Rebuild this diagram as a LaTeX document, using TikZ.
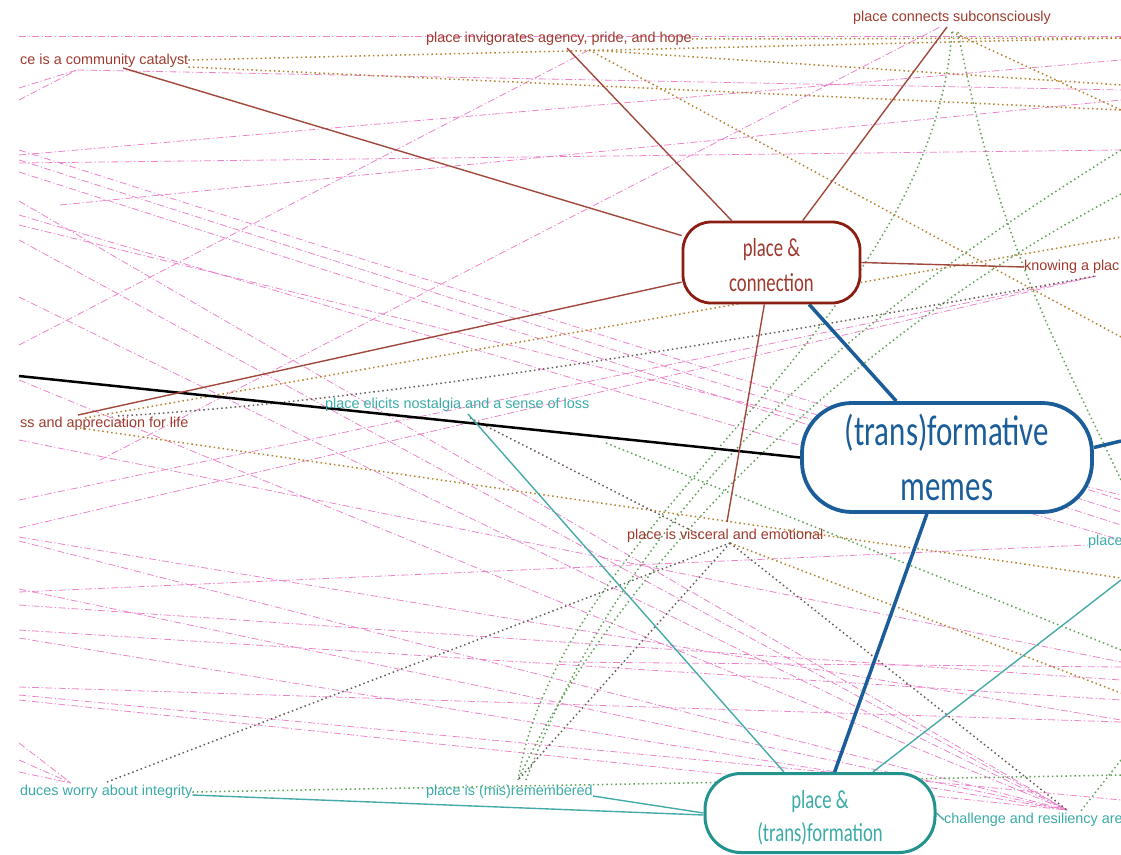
\documentclass[tikz,border=0pt]{standalone}
\usepackage{fontspec}
\setmainfont{Liberation Sans}
\newfontfamily\nodefont[FakeStretch=0.72]{Carlito}
\definecolor{brtext}{HTML}{9E3A2E}
\definecolor{brline}{HTML}{A0483C}
\definecolor{brbox}{HTML}{8B1E12}
\definecolor{bluec}{HTML}{1A5D99}
\definecolor{tealbox}{HTML}{23938D}
\definecolor{tealtext}{HTML}{3AABA8}
\definecolor{tealline}{HTML}{45ABA8}
\definecolor{pinkc}{HTML}{EC82CA}
\definecolor{orangec}{HTML}{B58230}
\definecolor{greenc}{HTML}{62A35A}
\definecolor{darkc}{HTML}{6A5C5C}
\pgfdeclarelayer{bg}
\pgfsetlayers{bg,main}
\tikzset{
  hub/.style={draw, fill=white, align=center, inner sep=0pt},
  lbl/.style={anchor=west, inner sep=0pt, font=\fontsize{14.4}{16}\selectfont},
  pinkl/.style={pinkc, line width=0.8pt, dash pattern=on 7pt off 2.5pt on 1.2pt off 2.5pt},
  dotor/.style={orangec, line width=1.5pt, dash pattern=on 1.5pt off 3pt},
  dotgr/.style={greenc, line width=1.5pt, dash pattern=on 1.5pt off 3pt},
  dotdk/.style={darkc, line width=1.5pt, dash pattern=on 1.5pt off 3pt},
  brl/.style={brline, line width=1.4pt},
  tll/.style={tealline, line width=1.4pt},
  bll/.style={bluec, line width=3.5pt},
}
\begin{document}
\begin{tikzpicture}[x=1pt,y=-1pt]
\useasboundingbox (0,0) rectangle (1121,854);
% hubs
\node[hub, draw=brbox, line width=2.8pt, text=brtext, minimum width=177pt, minimum height=81pt, rounded corners=28pt,
  font=\nodefont\fontsize{26}{35}\selectfont] (pc) at (771.5,262.5) {\rule{0pt}{24pt}place \&\\connection};
\node[hub, draw=bluec, line width=3.8pt, text=bluec, minimum width=290pt, minimum height=109pt, rounded corners=50pt,
  font=\nodefont\fontsize{43}{55}\selectfont] (mm) at (947,457.5) {(trans)formative\\memes};
\node[hub, draw=tealbox, line width=3pt, text=tealtext, minimum width=230pt, minimum height=79pt, rounded corners=36pt,
  font=\nodefont\fontsize{26}{33}\selectfont] (pt) at (820,813) {\rule{0pt}{28pt}place \&\\(trans)formation};
% labels
\node[lbl, text=brtext] (subc) at (853,18) {place connects subconsciously};
\node[lbl, text=brtext] (invig) at (426,39) {place invigorates agency, pride, and hope};
\node[lbl, text=brtext] (catal) at (20,61) {ce is a community catalyst};
\node[lbl, text=brtext] (know) at (1024,267) {knowing a plac};
\node[lbl, text=brtext] (appr) at (20,424) {ss and appreciation for life};
\node[lbl, text=tealtext] (nost) at (325,405) {place elicits nostalgia and a sense of loss};
\node[lbl, text=brtext] (visc) at (627,536) {place is visceral and emotional};
\node[lbl, text=tealtext] (integ) at (20,792) {duces worry about integrity};
\node[lbl, text=tealtext] (misr) at (426,792) {place is (mis)remembered};
\node[lbl, text=tealtext] (chal) at (944,820) {challenge and resiliency are};
\node[lbl, text=tealtext] (plr) at (1088,542) {place};
% anchor points
\coordinate (cC) at (1067,810);
\coordinate (cK) at (1096,276);
\coordinate (cCat) at (77,70);
\coordinate (cInv) at (589,50);
\coordinate (cSub) at (952,32);
\coordinate (cApp) at (85,418);
\coordinate (cNos) at (470,418);
\coordinate (cVis) at (730,543);
\coordinate (cInt) at (107,782);
\coordinate (cMis) at (518,780);
\coordinate (cPl) at (1088,545);
\begin{pgfonlayer}{bg}
\begin{scope}
\clip (19,0) rectangle (1121,854);
% pink cross-links
\draw[pinkl] (19,36) -- (1121,36);
\draw[pinkl] (cCat) -- (1121,90);
\draw[pinkl] (19,88) -- (cCat);
\draw[pinkl] (19,100) -- (cCat);
\draw[pinkl] (19,155) -- (1121,60);
\draw[pinkl] (19,163) -- (1121,150);
\draw[pinkl] (60,205) -- (1121,100);
\draw[pinkl] (19,345) -- (cInv);
\draw[pinkl] (100,460) -- (940,27);
\draw[pinkl] (19,150) -- (1121,500);
\draw[pinkl] (19,160) -- (1121,512);
\draw[pinkl] (19,172) -- (1121,525);
\draw[pinkl] (19,215) -- (1121,540);
\draw[pinkl] (19,225) -- (1121,495);
\draw[pinkl] (19,201) -- (cC);
\draw[pinkl] (19,240) -- (cC);
\draw[pinkl] (19,297) -- (cC);
\draw[pinkl] (19,380) -- (cC);
\draw[pinkl] (19,541) -- (cC);
\draw[pinkl] (19,589) -- (cC);
\draw[pinkl] (19,638) -- (cC);
\draw[pinkl] (19,700) -- (cC);
\draw[pinkl] (19,500) -- (cK);
\draw[pinkl] (19,528) -- (cK);
\draw[pinkl] (19,440) -- (1121,662);
\draw[pinkl] (19,537) -- (1121,720);
\draw[pinkl] (19,592) -- (cPl);
\draw[pinkl] (19,605) -- (1121,680);
\draw[pinkl] (19,630) -- (1121,700);
\draw[pinkl] (19,687) -- (1121,722);
\draw[pinkl] (19,695) -- (1121,800);
\draw[pinkl] (19,743) -- (71,783);
\draw[pinkl] (19,760) -- (71,783);
\draw[pinkl] (19,772) -- (71,783);
\draw[pinkl] (560,662) -- (1121,667);
% dotted cross-links
\draw[dotor] (catal.east) ++(0,-1) -- (1121,38);
\draw[dotor] (catal.east) ++(0,6) -- (1121,110);
\draw[dotor] (invig.east) -- (1121,38);
\draw[dotor] (cInv) -- (1121,337);
\draw[dotor] (cInv) -- (1121,85);
\draw[dotor] (cSub) -- (1121,110);
\draw[dotor] (cApp) -- (1121,237);
\draw[dotor] (80,428) -- (1121,578);
\draw[dotor] (cVis) -- (1121,693);
\draw[dotgr] (cSub) .. controls (930,330) and (560,520) .. (cMis);
\draw[dotgr] (958,32) .. controls (1000,250) and (1060,350) .. (1121,480);
\draw[dotgr] (1121,150) .. controls (880,300) and (640,480) .. (526,780);
\draw[dotgr] (1121,194) .. controls (860,330) and (620,560) .. (cMis);
\draw[dotgr] (606,443) -- (1121,650);
\draw[dotgr] (integ.east) -- (1121,775);
\draw[dotgr] (1121,760) -- (1080,812);
\draw[dotdk] (cInt) -- (cVis);
\draw[dotdk] (cVis) -- (cMis);
\draw[dotdk] (cVis) -- (cC);
\draw[dotdk] (118,416) .. controls (400,400) and (800,330) .. (cK);
\draw[dotdk] (cNos) -- (700,535);
\end{scope}
% tree connectors
\draw[bll] (pc) -- (mm);
\draw[bll] (mm) -- (pt);
\draw[bll] (mm.east) ++(0,-10) -- (1121,441);
\draw[black, line width=2.5pt] (19,376) -- (mm.west);
\draw[brl] (123,68) -- (pc);
\draw[brl] (567,48) -- (pc);
\draw[brl] (947,27) -- (pc);
\draw[brl] (pc.east) -- (know.west);
\draw[brl] (78,415) -- (pc);
\draw[brl] (pc) -- (727,522);
\draw[tll] (468,414) -- (pt);
\draw[tll] (1121,580) -- (pt);
\draw[tll] (misr.east) ++(0,4) -- (pt.west);
\draw[tll] (integ.east) ++(0,3) -- ([yshift=-2pt]pt.west);
\draw[tll] (pt.east) -- (chal.west);
\end{pgfonlayer}
\end{tikzpicture}
\end{document}
